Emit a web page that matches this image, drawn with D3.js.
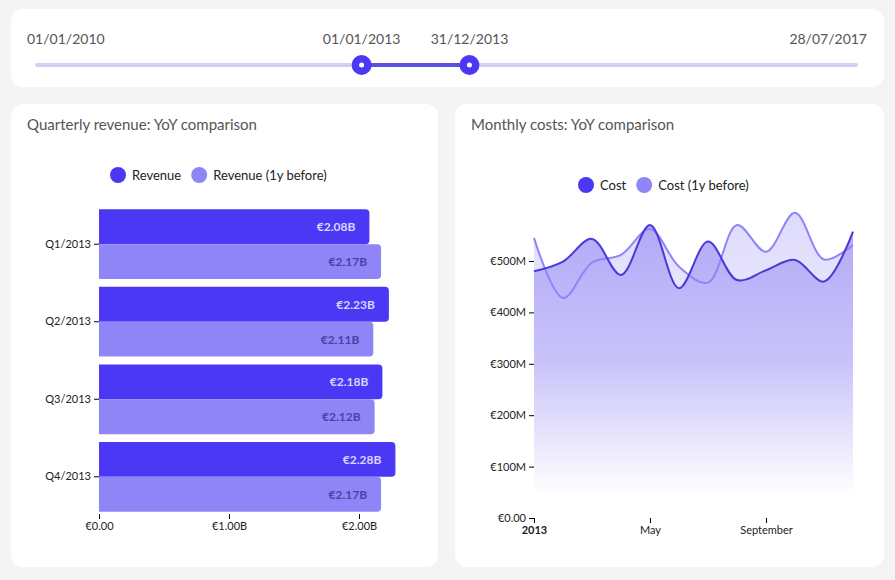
<!DOCTYPE html>
<html><head><meta charset="utf-8">
<script src="https://cdn.jsdelivr.net/npm/d3@7"></script>
<style>
body{margin:0;background:#f4f4f4;font-family:Lato,sans-serif}
</style></head><body>
<svg id="vis" width="895" height="580"></svg>
<script>
var quarters = ["Q1/2013","Q2/2013","Q3/2013","Q4/2013"];
var revenue = [2.08, 2.23, 2.18, 2.28];
var revenuePrev = [2.17, 2.11, 2.12, 2.17];
var months = [0,1,2,3,4,5,6,7,8,9,10,11];
var cost = [480, 499, 543, 473, 570, 447, 538, 463, 482, 502, 460, 557];
var costPrev = [545, 428, 497, 512, 562, 489, 458, 570, 518, 594, 503, 531];
var sliderLabels = ["01/01/2010","01/01/2013","31/12/2013","28/07/2017"];

var dark = "#4b38f5", light = "#8f85f7";
var svg = d3.select("#vis");

// panels
[[11,9,873,78],[11,104,427,463],[455,104,429,463]].forEach(function(p){
  svg.append("rect").attr("x",p[0]).attr("y",p[1]).attr("width",p[2]).attr("height",p[3])
    .attr("rx",12).attr("fill","#fff");
});

// slider
var sx = d3.scaleTime().domain([new Date(2010,0,1), new Date(2017,6,28)]).range([37,856]);
var s0 = sx(new Date(2013,0,1)), s1 = sx(new Date(2013,11,31));
svg.append("line").attr("x1",37).attr("x2",856).attr("y1",65).attr("y2",65)
  .attr("stroke","#d3cef7").attr("stroke-width",4).attr("stroke-linecap","round");
svg.append("line").attr("x1",s0).attr("x2",s1).attr("y1",65).attr("y2",65)
  .attr("stroke","#5a4fe0").attr("stroke-width",4);
[s0,s1].forEach(function(x){
  svg.append("circle").attr("cx",x).attr("cy",65).attr("r",10).attr("fill",dark);
  svg.append("circle").attr("cx",x).attr("cy",65).attr("r",2.5).attr("fill","#fff");
});
var slx = [27, s0, s1, 867], anchors = ["start","middle","middle","end"];
sliderLabels.forEach(function(t,i){
  svg.append("text").attr("x",slx[i]).attr("y",44).attr("text-anchor",anchors[i])
    .attr("font-size",14).attr("fill","#555").text(t);
});

// titles
svg.append("text").attr("x",27).attr("y",130).attr("font-size",15).attr("fill","#555").text("Quarterly revenue: YoY comparison");
svg.append("text").attr("x",471).attr("y",130).attr("font-size",15).attr("fill","#555").text("Monthly costs: YoY comparison");

function legend(x, y, items){
  var g = svg.append("g").attr("transform","translate("+x+","+y+")");
  var off = 0;
  items.forEach(function(it){
    g.append("circle").attr("cx",off+9).attr("cy",0).attr("r",8).attr("fill",it[1]);
    var t = g.append("text").attr("x",off+23).attr("y",4.5).attr("font-size",13).attr("fill","#222").text(it[0]);
    off += 23 + t.node().getComputedTextLength() + 9;
  });
}
legend(109,175,[["Revenue",dark],["Revenue (1y before)",light]]);
legend(577,185,[["Cost",dark],["Cost (1y before)",light]]);

// bar chart
var x = d3.scaleLinear().domain([0,2.5]).range([99,424]);
var y = d3.scaleBand().domain(quarters).range([207,514]).paddingInner(0.1).paddingOuter(0.03);
var inner = d3.scaleBand().domain([0,1]).range([0,y.bandwidth()]);
var bars = svg.append("g");
function roundBar(x0, y0, w, h, r){
  return "M"+x0+","+y0+"H"+(x0+w-r)+"Q"+(x0+w)+","+y0+" "+(x0+w)+","+(y0+r)+
    "V"+(y0+h-r)+"Q"+(x0+w)+","+(y0+h)+" "+(x0+w-r)+","+(y0+h)+"H"+x0+"Z";
}
quarters.forEach(function(q,i){
  [[revenue[i],dark,"#d9d5ff"],[revenuePrev[i],light,"#4a42a8"]].forEach(function(d,j){
    var y0 = y(q)+inner(j);
    bars.append("path").attr("d",roundBar(x(0),y0,x(d[0])-x(0),inner.bandwidth(),4)).attr("fill",d[1]);
    bars.append("text").attr("x",x(d[0])-14).attr("y",y0+inner.bandwidth()/2+4.5)
      .attr("text-anchor","end").attr("font-size",12).attr("font-weight","bold")
      .attr("fill",d[2]).text("€"+d[0].toFixed(2)+"B");
  });
});
var ya = svg.append("g").attr("transform","translate(99,0)")
  .call(d3.axisLeft(y).tickSize(5).tickPadding(3));
ya.select(".domain").remove();
var xa = svg.append("g").attr("transform","translate(0,514)")
  .call(d3.axisBottom(x).tickValues([0,1,2]).tickSize(5).tickFormat(function(d){return "€"+d.toFixed(2)+(d?"B":"");}));
xa.select(".domain").remove();
[ya,xa].forEach(function(a){a.selectAll("text").attr("font-family","Lato").attr("font-size",11).attr("fill","#222");});

// area chart
var mx = d3.scaleLinear().domain([0,11]).range([534,853]);
var my = d3.scaleLinear().domain([0,500]).range([518,261]);
var defs = svg.append("defs");
var grad = defs.append("linearGradient").attr("id","g1").attr("x1",0).attr("y1",0).attr("x2",0).attr("y2",1)
  .attr("gradientUnits","userSpaceOnUse").attr("y1",230).attr("y2",495);
grad.append("stop").attr("offset",0).attr("stop-color","#b4abf7");
grad.append("stop").attr("offset",0.5).attr("stop-color","#c9c3fa");
grad.append("stop").attr("offset",1).attr("stop-color","#fff");
var grad2 = defs.append("linearGradient").attr("id","g2").attr("gradientUnits","userSpaceOnUse")
  .attr("x1",0).attr("x2",0).attr("y1",210).attr("y2",495);
grad2.append("stop").attr("offset",0).attr("stop-color","#dedafc");
grad2.append("stop").attr("offset",1).attr("stop-color","#fff");
var curve = d3.curveCatmullRom;
var area = function(vals){ return d3.area().x(function(d){return mx(d);}).y0(495).y1(function(d){return my(vals[d]);}).curve(curve)(months); };
var line = function(vals){ return d3.line().x(function(d){return mx(d);}).y(function(d){return my(vals[d]);}).curve(curve)(months); };
svg.append("path").attr("d",area(costPrev)).attr("fill","url(#g2)");
svg.append("path").attr("d",area(cost)).attr("fill","url(#g1)");
svg.append("path").attr("d",line(costPrev)).attr("fill","none").attr("stroke",light).attr("stroke-width",2);
svg.append("path").attr("d",line(cost)).attr("fill","none").attr("stroke","#4a3ad8").attr("stroke-width",2);
var ma = svg.append("g").attr("transform","translate(534,0)")
  .call(d3.axisLeft(my).tickValues([0,100,200,300,400,500]).tickSize(5)
    .tickFormat(function(d){return d? "€"+d+"M" : "€0.00";}));
ma.select(".domain").remove();
var mxa = svg.append("g").attr("transform","translate(0,518)")
  .call(d3.axisBottom(mx).tickValues([0,4,8]).tickSize(5).tickFormat(function(d){return ["2013","May","September"][d/4];}));
mxa.select(".domain").remove();
[ma,mxa].forEach(function(a){a.selectAll("text").attr("font-family","Lato").attr("font-size",11).attr("fill","#222");});
mxa.select("text").attr("font-weight","bold");
</script></body></html>
